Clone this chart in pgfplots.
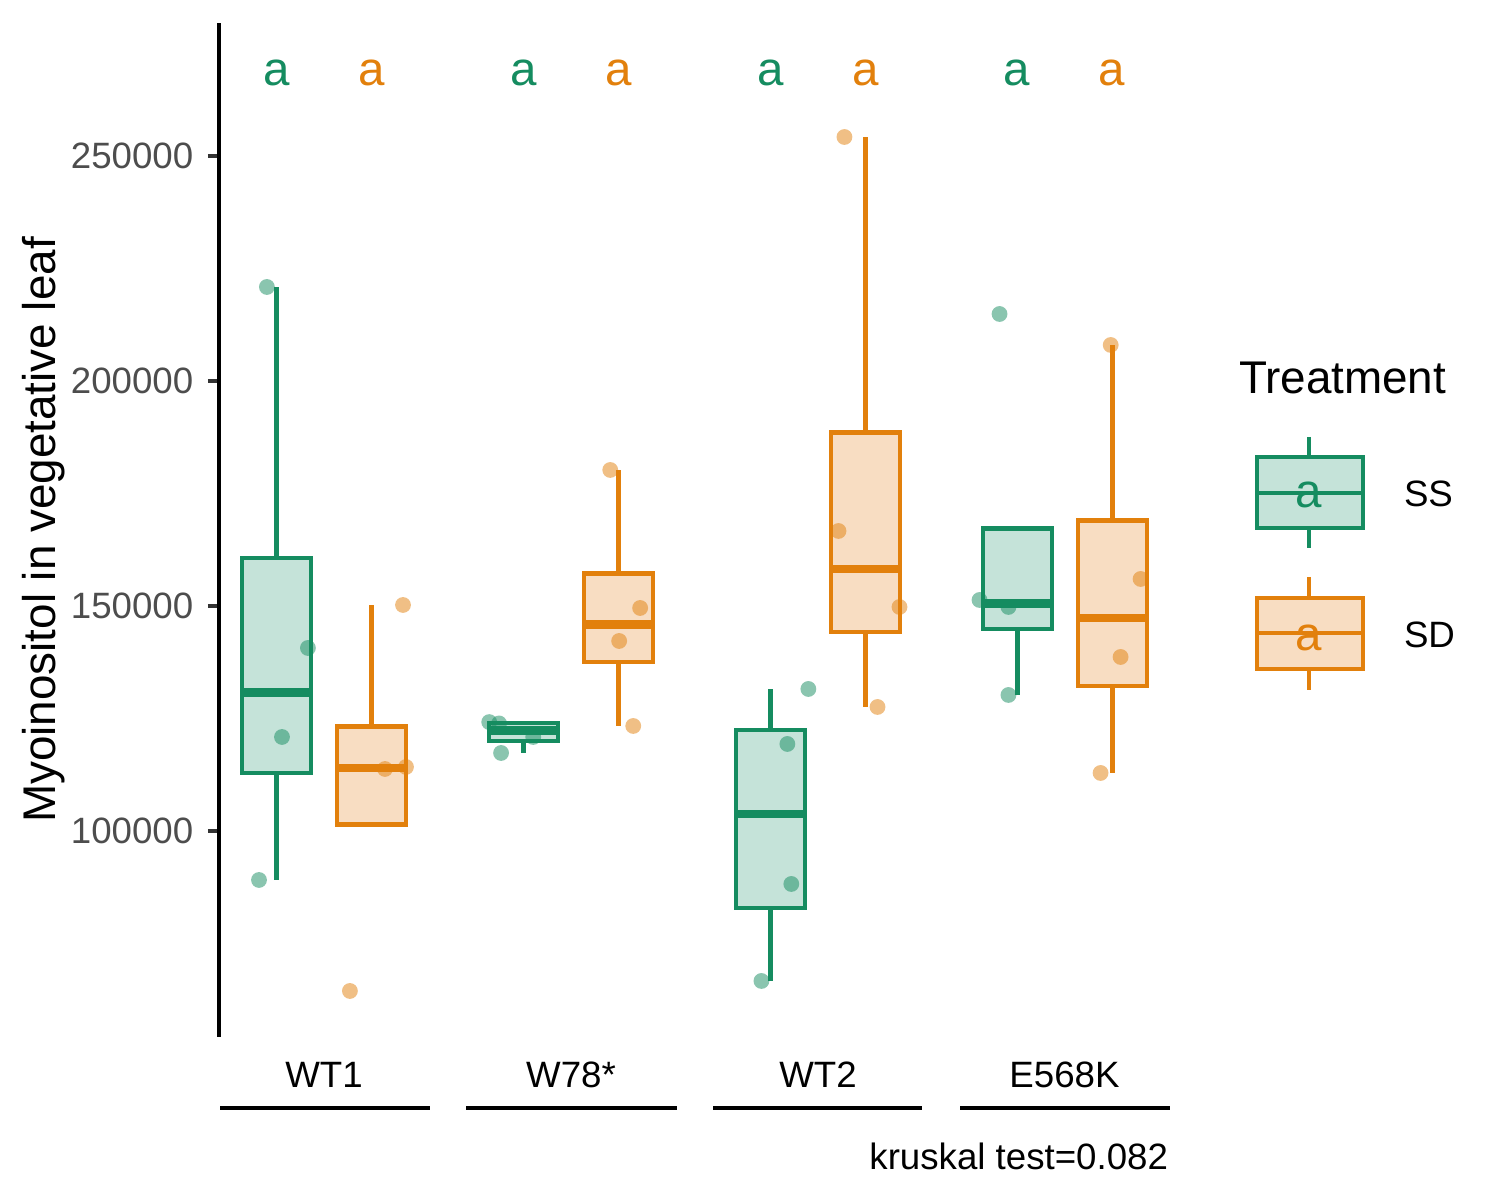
\documentclass[border=0pt]{standalone}
\usepackage{fontspec}
\setmainfont{Liberation Sans}
\usepackage{pgfplots}
\pgfplotsset{compat=1.18}
\definecolor{ssc}{HTML}{158C60}
\definecolor{sdc}{HTML}{E2800C}
\definecolor{ssfill}{HTML}{C5E3D9}
\definecolor{sdfill}{HTML}{F8DDC2}
\definecolor{gray30}{HTML}{4D4D4D}
\definecolor{gray20}{HTML}{333333}
\pgfplotsset{
  wsk/.style={line width=1.05pt, line cap=butt, mark=none},
  bxs/.style={line width=1.05pt, line join=miter, mark=none},
  med/.style={line width=2.1pt, line cap=butt, mark=none},
  sspts/.style={only marks, mark=*, mark size=1.9pt, mark options={draw=ssc, fill=ssc, draw opacity=0, fill opacity=0.5}},
  sdpts/.style={only marks, mark=*, mark size=1.9pt, mark options={draw=sdc, fill=sdc, draw opacity=0, fill opacity=0.5}},
}
\begin{document}
\begin{tikzpicture}
\path[use as bounding box] (-52.56pt,-39.12pt) rectangle (307.44pt,248.88pt);
\begin{axis}[
  at={(0pt,0pt)}, anchor=south west,
  scale only axis, width=228.24pt, height=243.36pt,
  xmin=0.575, xmax=4.425, ymin=54.222, ymax=279.556,
  axis x line=none, axis y line=left,
  y axis line style={-, line width=1pt, black},
  xtick=\empty,
  ytick={100,150,200,250},
  yticklabels={100000,150000,200000,250000},
  tick align=outside, major tick length=2.64pt,
  ytick style={line width=1pt, color=gray20},
  yticklabel style={font=\fontsize{8.8}{10}\selectfont, text=gray30},
]
% values in thousands
% ---- WT1 SS: min 89.111, Q1 112.944, med 130.778, Q3 160.722, max 220.889
\addplot[ssc, wsk] coordinates {(0.8075,89.111) (0.8075,112.944)};
\addplot[ssc, wsk] coordinates {(0.8075,160.722) (0.8075,220.889)};
\addplot[draw=ssc, fill=ssfill, bxs] coordinates {(0.6675,112.944) (0.9475,112.944) (0.9475,160.722) (0.6675,160.722)} -- cycle;
\addplot[ssc, med] coordinates {(0.6675,130.778) (0.9475,130.778)};
% ---- WT1 SD: Q1 101.444, med 114.000, Q3 123.222, upper whisker 150.222
\addplot[sdc, wsk] coordinates {(1.1925,123.222) (1.1925,150.222)};
\addplot[draw=sdc, fill=sdfill, bxs] coordinates {(1.0525,101.444) (1.3325,101.444) (1.3325,123.222) (1.0525,123.222)} -- cycle;
\addplot[sdc, med] coordinates {(1.0525,114.000) (1.3325,114.000)};
% ---- W78* SS: min 117.333, Q1 120.000, med 122.394, Q3 123.975, max 124.200
\addplot[ssc, wsk] coordinates {(1.8075,117.333) (1.8075,120.000)};
\addplot[ssc, wsk] coordinates {(1.8075,123.975) (1.8075,124.200)};
\addplot[draw=ssc, fill=ssfill, bxs] coordinates {(1.6675,120.000) (1.9475,120.000) (1.9475,123.975) (1.6675,123.975)} -- cycle;
\addplot[ssc, med] coordinates {(1.6675,122.394) (1.9475,122.394)};
% ---- W78* SD: min 123.333, Q1 137.500, med 145.889, Q3 157.222, max 180.222
\addplot[sdc, wsk] coordinates {(2.1925,123.333) (2.1925,137.500)};
\addplot[sdc, wsk] coordinates {(2.1925,157.222) (2.1925,180.222)};
\addplot[draw=sdc, fill=sdfill, bxs] coordinates {(2.0525,137.500) (2.3325,137.500) (2.3325,157.222) (2.0525,157.222)} -- cycle;
\addplot[sdc, med] coordinates {(2.0525,145.889) (2.3325,145.889)};
% ---- WT2 SS: min 66.667, Q1 82.833, med 103.778, Q3 122.389, max 131.556
\addplot[ssc, wsk] coordinates {(2.8075,66.667) (2.8075,82.833)};
\addplot[ssc, wsk] coordinates {(2.8075,122.389) (2.8075,131.556)};
\addplot[draw=ssc, fill=ssfill, bxs] coordinates {(2.6675,82.833) (2.9475,82.833) (2.9475,122.389) (2.6675,122.389)} -- cycle;
\addplot[ssc, med] coordinates {(2.6675,103.778) (2.9475,103.778)};
% ---- WT2 SD: min 127.556, Q1 144.222, med 158.222, Q3 188.556, max 254.222
\addplot[sdc, wsk] coordinates {(3.1925,127.556) (3.1925,144.222)};
\addplot[sdc, wsk] coordinates {(3.1925,188.556) (3.1925,254.222)};
\addplot[draw=sdc, fill=sdfill, bxs] coordinates {(3.0525,144.222) (3.3325,144.222) (3.3325,188.556) (3.0525,188.556)} -- cycle;
\addplot[sdc, med] coordinates {(3.0525,158.222) (3.3325,158.222)};
% ---- E568K SS: lower whisker 130.222, Q1 144.889, med 150.556, Q3 167.222
\addplot[ssc, wsk] coordinates {(3.8075,130.222) (3.8075,144.889)};
\addplot[draw=ssc, fill=ssfill, bxs] coordinates {(3.6675,144.889) (3.9475,144.889) (3.9475,167.222) (3.6675,167.222)} -- cycle;
\addplot[ssc, med] coordinates {(3.6675,150.556) (3.9475,150.556)};
% ---- E568K SD: min 112.889, Q1 132.222, med 147.333, Q3 169.000, max 208.000
\addplot[sdc, wsk] coordinates {(4.1925,112.889) (4.1925,132.222)};
\addplot[sdc, wsk] coordinates {(4.1925,169.000) (4.1925,208.000)};
\addplot[draw=sdc, fill=sdfill, bxs] coordinates {(4.0525,132.222) (4.3325,132.222) (4.3325,169.000) (4.0525,169.000)} -- cycle;
\addplot[sdc, med] coordinates {(4.0525,147.333) (4.3325,147.333)};
% jittered points
\addplot[sspts] coordinates {(0.769,220.889) (0.935,140.667) (0.830,120.889) (0.737,89.111)};
\addplot[sdpts] coordinates {(1.320,150.222) (1.247,113.778) (1.332,114.222) (1.105,64.444)};
\addplot[sspts] coordinates {(1.669,124.200) (1.709,123.900) (1.847,120.889) (1.717,117.333)};
\addplot[sdpts] coordinates {(2.159,180.222) (2.280,149.556) (2.195,142.222) (2.252,123.333)};
\addplot[sspts] coordinates {(2.771,66.667) (2.892,88.222) (2.876,119.333) (2.961,131.556)};
\addplot[sdpts] coordinates {(3.107,254.222) (3.083,166.667) (3.330,149.778) (3.241,127.556)};
\addplot[sspts] coordinates {(3.654,151.333) (3.771,149.778) (3.771,130.222) (3.735,214.889)};
\addplot[sdpts] coordinates {(4.185,208.000) (4.306,156.000) (4.225,138.667) (4.144,112.889)};
\end{axis}
\begin{scope}[shift={(-52.56pt,248.88pt)}, x=0.24pt, y=-0.24pt, every node/.style={inner sep=0pt, outer sep=0pt}]
% y label
\node[rotate=90, anchor=center, font=\fontsize{11}{13}\selectfont] at (44,530) {Myoinositol in vegetative leaf};
% letters
\foreach \g in {324,571,818,1064.5}{
  \node[anchor=base, text=ssc, font=\fontsize{11.4}{13}\selectfont] at (\g-47.5,86) {a};
  \node[anchor=base, text=sdc, font=\fontsize{11.4}{13}\selectfont] at (\g+47.5,86) {a};
}
% group labels and lines
\node[anchor=base, font=\fontsize{8.8}{10}\selectfont] at (324,1088) {WT1};
\node[anchor=base, font=\fontsize{8.8}{10}\selectfont] at (571,1088) {W78*};
\node[anchor=base, font=\fontsize{8.8}{10}\selectfont] at (818,1088) {WT2};
\node[anchor=base, font=\fontsize{8.8}{10}\selectfont] at (1064.5,1088) {E568K};
\draw[line width=0.96pt] (220,1108) -- (430,1108);
\draw[line width=0.96pt] (466,1108) -- (677,1108);
\draw[line width=0.96pt] (713,1108) -- (922,1108);
\draw[line width=0.96pt] (960,1108) -- (1170,1108);
\node[anchor=base east, font=\fontsize{8.8}{10}\selectfont] at (1168,1170) {kruskal test=0.082};
% legend
\node[anchor=base west, font=\fontsize{11}{13}\selectfont] at (1239,394) {Treatment};
\draw[ssc, line width=1.05pt] (1309,437) -- (1309,457) (1309,528) -- (1309,548);
\draw[ssc, fill=ssfill, line width=1.05pt] (1257,457) rectangle (1363,528);
\draw[ssc, line width=1.05pt] (1257,493) -- (1363,493);
\node[anchor=base, text=ssc, font=\fontsize{11.4}{13}\selectfont] at (1309,508) {a};
\draw[sdc, line width=1.05pt] (1309,577) -- (1309,598) (1309,669) -- (1309,690);
\draw[sdc, fill=sdfill, line width=1.05pt] (1257,598) rectangle (1363,669);
\draw[sdc, line width=1.05pt] (1257,633) -- (1363,633);
\node[anchor=base, text=sdc, font=\fontsize{11.4}{13}\selectfont] at (1309,651) {a};
\node[anchor=base west, font=\fontsize{8.8}{10}\selectfont] at (1404,507) {SS};
\node[anchor=base west, font=\fontsize{8.8}{10}\selectfont] at (1404,648) {SD};
\end{scope}
\end{tikzpicture}
\end{document}
